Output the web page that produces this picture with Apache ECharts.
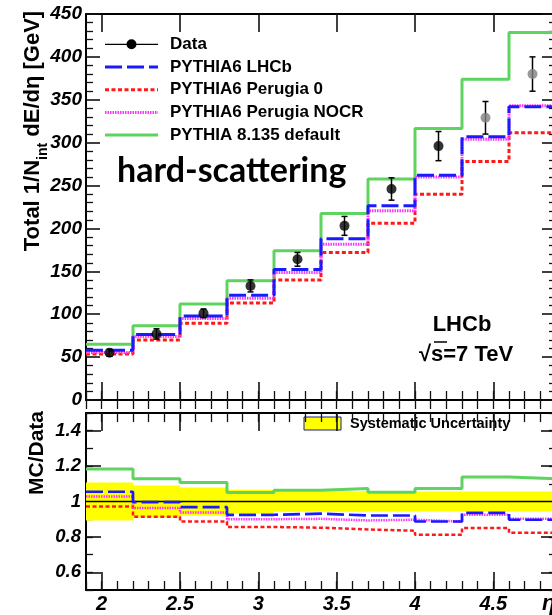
<!DOCTYPE html>
<html><head><meta charset="utf-8">
<script src="https://cdn.jsdelivr.net/npm/echarts@6/dist/echarts.min.js"></script>
<style>html,body{margin:0;padding:0;overflow:hidden;background:#fff}#c{width:560px;height:615px}</style>
</head><body><div id="c"></div>
<script>
// ---- data ----
const binEdges = [1.9,2.2,2.5,2.8,3.1,3.4,3.7,4.0,4.3,4.6,4.9];
const binCenters = [2.05,2.35,2.65,2.95,3.25,3.55,3.85,4.15,4.45,4.75];
const dataValues = [55,77,101,133,164,203,246,296,329,380];
const dataErrors = [4,6,5,7,8,11,13,17,19,20];
const lhcbValues = [58,76.5,98,122,152,188,226.5,262,307,342];
const perugia0Values = [53.5,70,89.5,113,140,172,206,240,278,311.5];
const nocrValues = [55.5,74,95,118.5,148.5,181.5,220.5,260,304,343];
const pythia8Values = [65,86.5,112,139,174,217.5,257.5,316.5,374,428.5];

const ratioLHCb = [1.055,0.996,0.968,0.925,0.931,0.921,0.921,0.887,0.936,0.897];
const ratioPerugia0 = [0.972,0.914,0.887,0.856,0.852,0.842,0.835,0.812,0.850,0.823];
const ratioNOCR = [1.028,0.963,0.938,0.900,0.902,0.893,0.897,0.887,0.925,0.902];
const ratioPythia8 = [1.184,1.128,1.107,1.051,1.064,1.074,1.052,1.073,1.139,1.128];
const sysUncertainty = [0.107,0.09,0.079,0.066,0.058,0.058,0.056,0.056,0.056,0.056];
const ratioReference = 1;

const xMajorTicks = [2,2.5,3,3.5,4,4.5];
const ratioMajorTicks = [0.6,0.8,1,1.2,1.4];
const legendNames = ['Data','PYTHIA6 LHCb','PYTHIA6 Perugia 0','PYTHIA6 Perugia NOCR','PYTHIA 8.135 default'];
const greyFromIndex = 8;

// ---- helpers ----
const FONT = '"Liberation Sans", Arial, sans-serif';
const stepData = vals => binEdges.map((e,i)=>[e, vals[Math.min(i, vals.length-1)]]);
const X0 = binEdges[0], X1 = binEdges[binEdges.length-1];

function xAxes(gridIndex, labels){
  const base = {gridIndex, type:'value', min:X0, max:X1, splitLine:{show:false}};
  const major = (pos, lbl) => Object.assign({}, base, {position:pos,
    axisLine:{show:true, onZero:false, lineStyle:{color:'#000', width:2}},
    axisTick:{show:true, inside:true, length:18, customValues:xMajorTicks, lineStyle:{color:'#111', width:1.6}},
    axisLabel: lbl ? {show:true, customValues:xMajorTicks, margin:4, color:'#000', fontFamily:FONT, fontSize:20, fontStyle:'italic', fontWeight:'bold'} : {show:false}
  });
  const minor = pos => Object.assign({}, base, {position:pos, interval:0.1,
    axisLine:{show:false}, axisTick:{show:true, inside:true, length:9, lineStyle:{color:'#111', width:1.3}}, axisLabel:{show:false}});
  return [major('bottom', labels), minor('bottom'), major('top', false), minor('top')];
}

const option = {
  animation:false,
  grid:[
    {left:86, top:14, width:470, height:386},
    {left:86, top:413, width:470, height:177}
  ],
  xAxis:[...xAxes(0,false), ...xAxes(1,true)],
  yAxis:[
    {gridIndex:0, type:'value', min:0, max:450, interval:50, position:'left',
     axisLine:{show:true, onZero:false, lineStyle:{color:'#000', width:2}},
     axisTick:{show:true, inside:true, length:14, lineStyle:{color:'#111', width:1.6}},
     minorTick:{show:true, splitNumber:5, length:7, lineStyle:{color:'#111', width:1.3}},
     splitLine:{show:false}, minorSplitLine:{show:false},
     axisLabel:{margin:4, color:'#000', fontFamily:FONT, fontSize:19, fontStyle:'italic', fontWeight:'bold'}},
    {gridIndex:0, type:'value', min:0, max:450, interval:50, position:'right',
     axisLine:{show:true, onZero:false, lineStyle:{color:'#000', width:2}},
     axisTick:{show:true, inside:true, length:14, lineStyle:{color:'#111', width:1.6}},
     minorTick:{show:true, splitNumber:5, length:7, lineStyle:{color:'#111', width:1.3}},
     splitLine:{show:false}, axisLabel:{show:false}},
    // ratio panel
    {gridIndex:1, type:'value', min:0.5, max:1.5, interval:0.1, position:'left',
     axisLine:{show:true, onZero:false, lineStyle:{color:'#000', width:2}},
     axisTick:{show:true, inside:true, length:7, lineStyle:{color:'#111', width:1.3}},
     splitLine:{show:false},
     axisLabel:{customValues:ratioMajorTicks, margin:5, color:'#000', fontFamily:FONT, fontSize:18.5, fontStyle:'italic', fontWeight:'bold'}},
    {gridIndex:1, type:'value', min:0.5, max:1.5, position:'left',
     axisLine:{show:false}, splitLine:{show:false}, axisLabel:{show:false},
     axisTick:{show:true, inside:true, length:15, customValues:ratioMajorTicks, lineStyle:{color:'#111', width:1.6}}},
    {gridIndex:1, type:'value', min:0.5, max:1.5, interval:0.1, position:'right',
     axisLine:{show:true, onZero:false, lineStyle:{color:'#000', width:2}},
     axisTick:{show:true, inside:true, length:7, lineStyle:{color:'#111', width:1.3}},
     splitLine:{show:false}, axisLabel:{show:false}},
    {gridIndex:1, type:'value', min:0.5, max:1.5, position:'right',
     axisLine:{show:false}, splitLine:{show:false}, axisLabel:{show:false},
     axisTick:{show:true, inside:true, length:15, customValues:ratioMajorTicks, lineStyle:{color:'#111', width:1.6}}}
  ],
  series:[]
};

const styles = {
  p8:{color:'#5fd35f', width:3, type:'solid'},
  p0:{color:'#ff1a1a', width:3, type:[4,2.5]},
  nocr:{color:'#ff33ff', width:3, type:[1.5,1]},
  lhcb:{color:'#1a1aff', width:3, type:[17,5]}
};
function histo(vals, st, xi, yi, w){
  return {type:'line', xAxisIndex:xi, yAxisIndex:yi, step:'end', symbol:'none', showSymbol:false,
    data:stepData(vals), lineStyle:{color:st.color, width:w||st.width, type:st.type}, silent:true, z:3};
}
// top panel
option.series.push(histo(pythia8Values, styles.p8, 0, 0));
option.series.push(histo(perugia0Values, styles.p0, 0, 0));
option.series.push(histo(nocrValues, styles.nocr, 0, 0));
option.series.push(histo(lhcbValues, styles.lhcb, 0, 0));
option.series.push({type:'custom', xAxisIndex:0, yAxisIndex:0, z:4, silent:true,
  data: binCenters.map((x,i)=>[x, dataValues[i], dataErrors[i]]),
  encode:{x:0, y:1},
  renderItem:(params, api)=>{
    const x=api.value(0), y=api.value(1), e=api.value(2);
    const t=api.coord([x,y+e]), b=api.coord([x,y-e]); const c=3;
    const st={stroke:'#000', lineWidth:1.5};
    return {type:'group', children:[
      {type:'line', shape:{x1:t[0],y1:t[1],x2:b[0],y2:b[1]}, style:st},
      {type:'line', shape:{x1:t[0]-c,y1:t[1],x2:t[0]+c,y2:t[1]}, style:st},
      {type:'line', shape:{x1:b[0]-c,y1:b[1],x2:b[0]+c,y2:b[1]}, style:st}
    ]};
  }});
option.series.push({type:'scatter', xAxisIndex:0, yAxisIndex:0, z:5, silent:true, symbolSize:10,
  data: binCenters.map((x,i)=>[x, dataValues[i]]),
  itemStyle:{color:p=>p.dataIndex>=greyFromIndex?'#808080':'#000'}});

// ratio panel
option.series.push({type:'custom', xAxisIndex:4, yAxisIndex:2, z:1, silent:true,
  data: sysUncertainty.map((s,i)=>[binEdges[i], binEdges[i+1], ratioReference-s, ratioReference+s]),
  encode:{x:[0,1], y:[2,3]},
  renderItem:(params, api)=>{
    const p1=api.coord([api.value(0), api.value(3)]), p2=api.coord([api.value(1), api.value(2)]);
    return {type:'rect', shape:{x:p1[0], y:p1[1], width:p2[0]-p1[0], height:p2[1]-p1[1]}, style:{fill:'#ffff00'}};
  }});
option.series.push({type:'line', xAxisIndex:4, yAxisIndex:2, z:2, symbol:'none', silent:true,
  data:[[X0, ratioReference],[X1, ratioReference]], lineStyle:{color:'#000', width:1.5}});
option.series.push(histo(ratioPythia8, styles.p8, 4, 2, 3));
option.series.push(histo(ratioPerugia0, styles.p0, 4, 2, 2.5));
option.series.push(histo(ratioNOCR, styles.nocr, 4, 2, 2.5));
option.series.push(histo(ratioLHCb, styles.lhcb, 4, 2, 2.7));

// ---- legends and texts ----
const g = [];
const legY0 = 44.3, legGap = 22.7, legX1 = 105, legX2 = 158, legTx = 170;
const legStyles = [null, styles.lhcb, styles.p0, styles.nocr, styles.p8];
legendNames.forEach((name,i)=>{
  const y = legY0 + i*legGap;
  if(i===0){
    g.push({type:'line', shape:{x1:legX1,y1:y,x2:legX2,y2:y}, style:{stroke:'#000', lineWidth:1.3}});
    g.push({type:'circle', shape:{cx:(legX1+legX2)/2, cy:y, r:5}, style:{fill:'#000'}});
  } else {
    const st = legStyles[i];
    g.push({type:'line', shape:{x1:legX1,y1:y,x2:legX2,y2:y}, style:{stroke:st.color, lineWidth:st.width, lineDash:Array.isArray(st.type)?st.type:null}});
  }
  g.push({type:'text', x:legTx, y:y, style:{text:name, fill:'#000', font:'bold 17px '+FONT, textVerticalAlign:'middle', verticalAlign:'middle'}});
});
g.push({type:'text', x:117, y:171, style:{text:'hard-scattering', fill:'#000', font:'bold 34px Lato, "Open Sans", sans-serif', textVerticalAlign:'middle', verticalAlign:'middle'}});
g.push({type:'text', x:462, y:325, style:{text:'LHCb', fill:'#000', font:'bold 22px '+FONT, textAlign:'center', align:'center', textVerticalAlign:'middle', verticalAlign:'middle'}});
g.push({type:'text', x:466, y:355, style:{text:'√s=7 TeV', fill:'#000', font:'bold 22px '+FONT, textAlign:'center', align:'center', textVerticalAlign:'middle', verticalAlign:'middle'}});
g.push({type:'line', shape:{x1:434, y1:342, x2:447, y2:342}, style:{stroke:'#000', lineWidth:1.5}});
// ratio legend
g.push({type:'rect', shape:{x:304, y:417, width:37, height:13}, style:{fill:'#ffff00', stroke:'#1a1a99', lineWidth:1}});
g.push({type:'text', x:350, y:423.5, style:{text:'Systematic Uncertainty', fill:'#000', font:'bold 14.5px '+FONT, textVerticalAlign:'middle', verticalAlign:'middle'}});
// axis titles
g.push({type:'text', x:33, y:131, rotation:Math.PI/2, style:{
  text:'{m|Total 1/N}{s|int}{m| dE/dη [GeV]}', textAlign:'center', align:'center', textVerticalAlign:'middle', verticalAlign:'middle',
  rich:{m:{fontFamily:FONT, fontWeight:'bold', fontSize:22, lineHeight:34, verticalAlign:'middle', fill:'#000', color:'#000'},
        s:{fontFamily:FONT, fontWeight:'bold', fontSize:14, lineHeight:14, verticalAlign:'bottom', fill:'#000', color:'#000'}}}});
g.push({type:'text', x:37, y:453, rotation:Math.PI/2, style:{text:'MC/Data', fill:'#000', font:'bold 21px '+FONT, textAlign:'center', align:'center', textVerticalAlign:'middle', verticalAlign:'middle'}});
g.push({type:'text', x:542, y:604, style:{text:'η', fill:'#000', font:'bold italic 22px '+FONT, textVerticalAlign:'middle', verticalAlign:'middle'}});
option.graphic = g;

const chart = echarts.init(document.getElementById('c'), null, {renderer:'canvas'});
chart.setOption(option);
</script>
</body></html>
